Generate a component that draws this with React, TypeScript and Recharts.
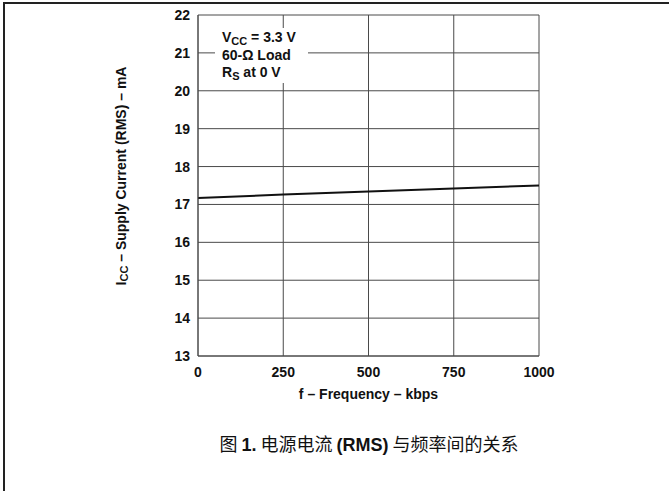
import { LineChart, Line, XAxis, YAxis, CartesianGrid } from "recharts"

// frequency (kbps) vs supply current (mA)
const frequency = [0, 250, 500, 750, 1000]
const supplyCurrent = [17.17, 17.26, 17.34, 17.42, 17.5]
const xTicks = [0, 250, 500, 750, 1000]
const yTicks = [13, 14, 15, 16, 17, 18, 19, 20, 21, 22]

const data = frequency.map((f, i) => ({ f, icc: supplyCurrent[i] }))

const font = "'Liberation Sans', Arial, sans-serif"
const gridColor = "#4a4a4a"

function YLabel() {
  return (
    <text
      x={0}
      y={0}
      transform="translate(126, 176) rotate(-90)"
      textAnchor="middle"
      fontFamily={font}
      fontWeight="bold"
      fontSize={14}
      fill="#111"
    >
      I<tspan fontSize={11} dy={2}>CC</tspan>
      <tspan dy={-2}> – Supply Current (RMS) – mA</tspan>
    </text>
  )
}

const sub = { fontSize: 11, position: "relative" as const, top: 3 }

export default function App() {
  return (
    <div style={{ position: "absolute", left: 0, top: 0, width: 669, height: 491, background: "#fff" }}>
      {/* page frame */}
      <div
        style={{
          position: "absolute", left: 3, top: 2, width: 666, height: 489,
          borderTop: "2px solid #222", borderLeft: "2px solid #222", boxSizing: "border-box",
        }}
      />
      <div style={{ position: "absolute", left: 0, top: 0 }}>
        <LineChart width={669} height={491} data={data} margin={{ top: 15, right: 130, bottom: 105, left: 138 }}>
          <CartesianGrid stroke={gridColor} strokeWidth={1} />
          <XAxis
            dataKey="f"
            type="number"
            domain={[0, 1000]}
            ticks={xTicks}
            tickLine={false}
            axisLine={{ stroke: gridColor }}
            tickMargin={5}
            height={30}
            tick={{ fill: "#111", fontFamily: font, fontWeight: "bold", fontSize: 14 }}
          />
          <YAxis
            type="number"
            domain={[13, 22]}
            ticks={yTicks}
            tickLine={false}
            axisLine={{ stroke: gridColor }}
            width={60}
            tick={{ fill: "#111", fontFamily: font, fontWeight: "bold", fontSize: 14 }}
          />
          <Line
            dataKey="icc"
            stroke="#111"
            strokeWidth={2}
            dot={false}
            isAnimationActive={false}
          />
          <YLabel />
        </LineChart>
      </div>
      {/* conditions box */}
      <div
        style={{
          position: "absolute", left: 215, top: 28, width: 93, height: 55, background: "#fff",
          fontFamily: font, fontWeight: "bold", fontSize: 14, color: "#111", lineHeight: "17px",
          paddingLeft: 7, paddingTop: 1, boxSizing: "border-box", whiteSpace: "nowrap",
        }}
      >
        <div>V<span style={sub}>CC</span> = 3.3 V</div>
        <div>60-Ω Load</div>
        <div>R<span style={sub}>S</span> at 0 V</div>
      </div>
      <div
        style={{
          position: "absolute", left: 198, width: 341, top: 386, textAlign: "center",
          fontFamily: font, fontWeight: "bold", fontSize: 14, color: "#111",
        }}
      >
        f – Frequency – kbps
      </div>
      <div
        style={{
          position: "absolute", left: 169, width: 400, top: 430, textAlign: "center",
          fontFamily: "'Noto Sans CJK SC', sans-serif", fontSize: 18, color: "#111",
        }}
      >
        图 <b style={{ fontFamily: font }}>1.</b> 电源电流 <b style={{ fontFamily: font }}>(RMS)</b> 与频率间的关系
      </div>
    </div>
  )
}
